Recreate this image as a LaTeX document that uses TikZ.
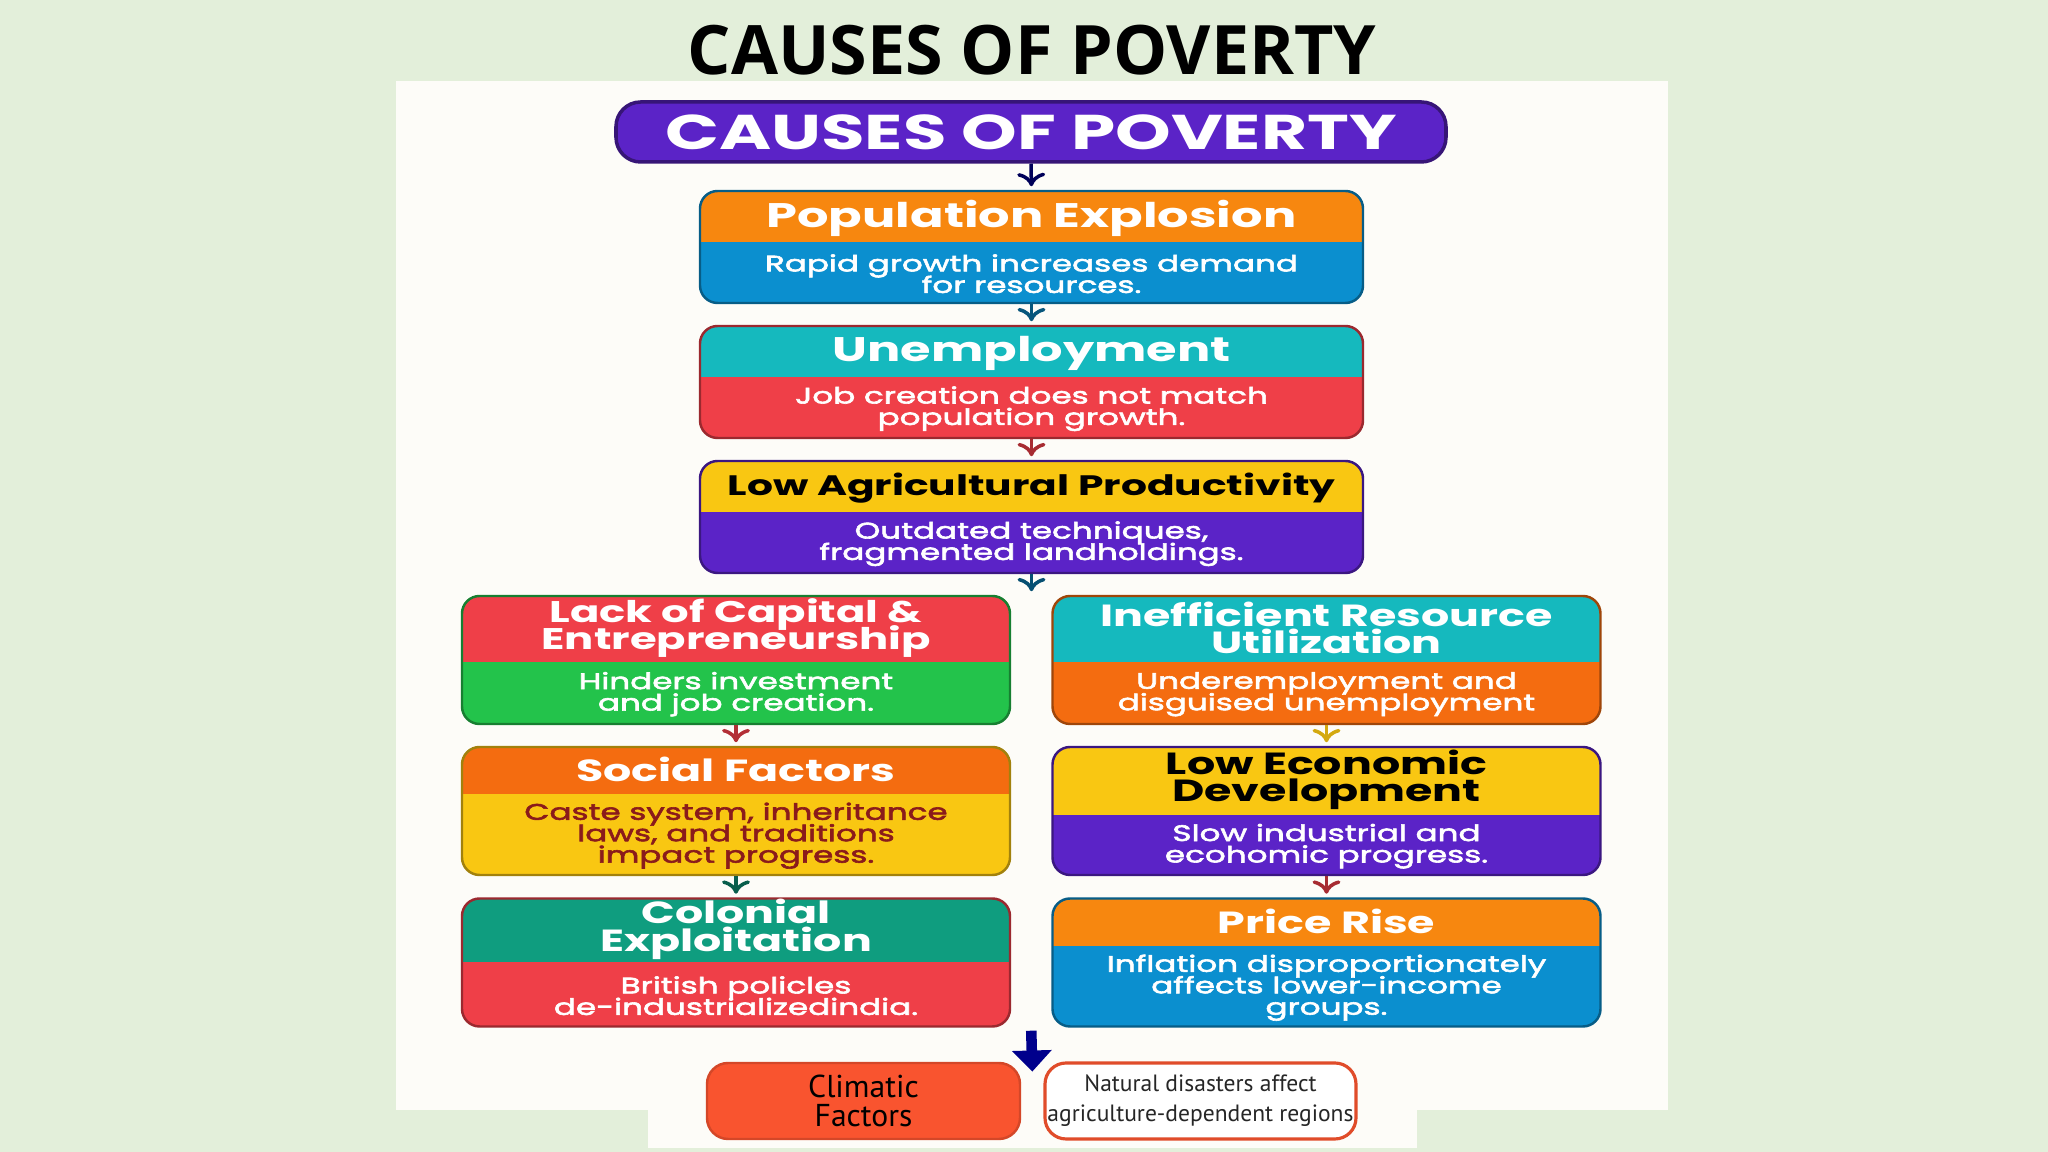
\documentclass[tikz,border=0pt]{standalone}
\usepackage{fontspec}
\usepackage{tikz}
\usetikzlibrary{calc,arrows.meta}
\newfontfamily\headfont[FakeStretch=1.45]{Poppins}
\newfontfamily\bodyfont[FakeStretch=1.45, FakeBold=2.6]{Poppins}
\newfontfamily\titlefont{Open Sans}
\newfontfamily\plainfont{PT Sans}
\lineskiplimit=-20pt

\definecolor{bggreen}{HTML}{E3EFDA}
\definecolor{panel}{HTML}{FDFCF8}
\definecolor{cpurple}{HTML}{5B23C7}
\definecolor{corange}{HTML}{F7870F}
\definecolor{cblue}{HTML}{0B8FCF}
\definecolor{cteal}{HTML}{15B9BE}
\definecolor{cred}{HTML}{EF3F48}
\definecolor{cyellow}{HTML}{F9C712}
\definecolor{cgreen}{HTML}{23C34B}
\definecolor{cdeeporange}{HTML}{F46C10}
\definecolor{cjade}{HTML}{0F9D7F}
\definecolor{cclimate}{HTML}{F9542F}
\definecolor{cmaroon}{HTML}{8A1B1B}

\tikzset{
	card/.style={rounded corners=5pt, draw=#1!65!black, line width=0.7pt, fill=#1, inner sep=0pt},
	band/.style 2 args={path picture={\fill[#1, sharp corners] (path picture bounding box.north west) rectangle ([yshift=-#2]path picture bounding box.north east);}},
	hdbig/.style={font=\headfont\bfseries\fontsize{9.7}{9}\selectfont, align=center, inner sep=0pt, text=white},
	hdmid/.style={font=\headfont\bfseries\fontsize{8.7}{7.8}\selectfont, align=center, inner sep=0pt, text=white},
	bodytxt/.style={font=\bodyfont\fontsize{6.4}{6.1}\selectfont, align=center, inner sep=0pt, text=white},
	link/.style={->, line width=1pt, shorten >=1pt},
}

\begin{document}
\begin{tikzpicture}
	\useasboundingbox (0,0) rectangle (20.48,11.52);
	\fill[bggreen] (0,0) rectangle (20.48,11.52);
	\fill[panel] (3.96,0.42) rectangle (16.68,10.71);
	\fill[panel] (6.48,0.04) rectangle (14.17,1.19);

	\node[font=\titlefont\bfseries\fontsize{19.4}{22}\selectfont] (title) at (10.32,11.02) {CAUSES OF POVERTY};

	\node[card=cpurple, rounded corners=7pt, draw=cpurple!60!black, line width=1pt, minimum width=8.30cm, minimum height=0.60cm, font=\headfont\bfseries\fontsize{13.9}{14}\selectfont, text=white] (causes) at (10.31,10.20) {CAUSES OF POVERTY};

	% middle column
	\node[card=cblue, band={corange}{0.51cm}, minimum width=6.63cm, minimum height=1.12cm] (pop) at (10.315,9.05) {};
	\node[hdbig] (popH) at ([yshift=-0.29cm]pop.north) {Population Explosion};
	\node[bodytxt] (popB) at ([yshift=0.305cm]pop.south) {Rapid growth increases demand\\for resources.};

	\node[card=cred, band={cteal}{0.51cm}, minimum width=6.63cm, minimum height=1.12cm] (unemp) at (10.315,7.70) {};
	\node[hdbig] (unempH) at ([yshift=-0.29cm]unemp.north) {Unemployment};
	\node[bodytxt] (unempB) at ([yshift=0.305cm]unemp.south) {Job creation does not match\\population growth.};

	\node[card=cpurple, band={cyellow}{0.51cm}, minimum width=6.63cm, minimum height=1.12cm] (agri) at (10.315,6.35) {};
	\node[hdbig, text=black, font=\headfont\bfseries\fontsize{8}{9}\selectfont] (agriH) at ([yshift=-0.28cm]agri.north) {Low Agricultural Productivity};
	\node[bodytxt] (agriB) at ([yshift=0.305cm]agri.south) {Outdated techniques,\\fragmented landholdings.};

	% left column
	\node[card=cgreen, band={cred}{0.66cm}, minimum width=5.48cm, minimum height=1.28cm] (capital) at (7.36,4.92) {};
	\node[hdmid, font=\headfont\bfseries\fontsize{8.5}{7.8}\selectfont] (capitalH) at ([yshift=-0.33cm]capital.north) {Lack of Capital \&\\Entrepreneurship};
	\node[bodytxt] (capitalB) at ([yshift=0.31cm]capital.south) {Hinders investment\\and job creation.};

	\node[card=cyellow, band={cdeeporange}{0.47cm}, minimum width=5.48cm, minimum height=1.28cm] (social) at (7.36,3.41) {};
	\node[hdmid] (socialH) at ([yshift=-0.235cm]social.north) {Social Factors};
	\node[bodytxt, text=cmaroon] (socialB) at ([yshift=0.405cm]social.south) {Caste system, inheritance\\laws, and traditions\\impact progress.};

	\node[card=cred, band={cjade}{0.64cm}, minimum width=5.48cm, minimum height=1.28cm] (colonial) at (7.36,1.895) {};
	\node[hdmid] (colonialH) at ([yshift=-0.32cm]colonial.north) {Colonial\\Exploitation};
	\node[bodytxt] (colonialB) at ([yshift=0.32cm]colonial.south) {British policles\\de-industrializedindia.};

	% right column
	\node[card=cdeeporange, band={cteal}{0.66cm}, minimum width=5.48cm, minimum height=1.28cm] (resource) at (13.265,4.92) {};
	\node[hdmid] (resourceH) at ([yshift=-0.33cm]resource.north) {Inefficient Resource\\Utilization};
	\node[bodytxt] (resourceB) at ([yshift=0.31cm]resource.south) {Underemployment and\\disguised unemployment};

	\node[card=cpurple, band={cyellow}{0.68cm}, minimum width=5.48cm, minimum height=1.28cm] (econ) at (13.265,3.41) {};
	\node[hdmid, text=black] (econH) at ([yshift=-0.34cm]econ.north) {Low Economic\\Development};
	\node[bodytxt] (econB) at ([yshift=0.30cm]econ.south) {Slow industrial and\\ecohomic progress.};

	\node[card=cblue, band={corange}{0.48cm}, minimum width=5.48cm, minimum height=1.28cm] (price) at (13.265,1.895) {};
	\node[hdmid] (priceH) at ([yshift=-0.24cm]price.north) {Price Rise};
	\node[bodytxt] (priceB) at ([yshift=0.40cm]price.south) {Inflation disproportionately\\affects lower-income\\groups.};

	% bottom row
	\node[card=cclimate, draw=cclimate!85!black, rounded corners=6pt, minimum width=3.13cm, minimum height=0.76cm, align=center, font=\plainfont\fontsize{9}{8.2}\selectfont] (climate) at (8.635,0.51) {Climatic\\Factors};
	\node[card=white, draw=cclimate!90!black, line width=0.9pt, rounded corners=6pt, minimum width=3.11cm, minimum height=0.76cm, align=center, text=black!85, font=\plainfont\fontsize{6.7}{8.5}\selectfont] (natural) at (12.005,0.51) {Natural disasters affect\\agriculture-dependent regions};

	\coordinate (gap1) at (agri.south |- capital.north);
	\coordinate (gap2) at ($(colonial.south east)!0.5!(price.south west)$);
	\coordinate (gap3) at ($(climate.north east)!0.5!(natural.north west)$);

	\draw[link, color=blue!35!black] (causes.south) -- (pop.north);
	\draw[link, color=cblue!60!black] (pop.south) -- (unemp.north);
	\draw[link, color=cred!70!black] (unemp.south) -- (agri.north);
	\draw[link, color=cblue!55!black] (agri.south) -- (gap1);
	\draw[link, color=cred!75!black] (capital.south) -- (social.north);
	\draw[link, color=cjade!60!black] (social.south) -- (colonial.north);
	\draw[link, color=cyellow!85!black] (resource.south) -- (econ.north);
	\draw[link, color=cred!70!black] (econ.south) -- (price.north);
	\draw[-{Triangle[width=11pt,length=6pt]}, line width=3pt, color=blue!55!black] ([yshift=-0.03cm]gap2) -- ([yshift=-0.1cm]gap3);
\end{tikzpicture}
\end{document}
